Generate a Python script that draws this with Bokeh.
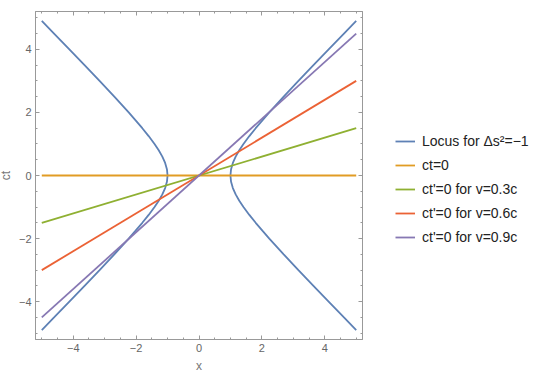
from bokeh.plotting import figure
from bokeh.layouts import row
from bokeh.models import Range1d, LinearAxis, SingleIntervalTicker, Legend, LegendItem, CustomLabelingPolicy
from bokeh.embed import file_html
from bokeh.resources import INLINE

# Hyperbola (locus for Δs² = −1)
ct_branch = [-4.899, -4.5, -4.0, -3.5, -3.0, -2.5, -2.0, -1.75, -1.5, -1.25, -1.0, -0.8, -0.6, -0.4, -0.2, 0.0,
             0.2, 0.4, 0.6, 0.8, 1.0, 1.25, 1.5, 1.75, 2.0, 2.5, 3.0, 3.5, 4.0, 4.5, 4.899]
x_right = [5.0, 4.61, 4.123, 3.64, 3.162, 2.693, 2.236, 2.016, 1.803, 1.601, 1.414, 1.281, 1.166, 1.077, 1.02, 1.0,
           1.02, 1.077, 1.166, 1.281, 1.414, 1.601, 1.803, 2.016, 2.236, 2.693, 3.162, 3.64, 4.123, 4.61, 5.0]
x_left = [-5.0, -4.61, -4.123, -3.64, -3.162, -2.693, -2.236, -2.016, -1.803, -1.601, -1.414, -1.281, -1.166, -1.077, -1.02, -1.0,
          -1.02, -1.077, -1.166, -1.281, -1.414, -1.601, -1.803, -2.016, -2.236, -2.693, -3.162, -3.64, -4.123, -4.61, -5.0]

# Straight lines through the origin
line_x = [-5.0, 5.0]
ct_zero = [0.0, 0.0]
ct_v03 = [-1.5, 1.5]
ct_v06 = [-3.0, 3.0]
ct_v09 = [-4.5, 4.5]

labels = ["Locus for \u0394s\u00b2=\u22121", "ct=0", "ct'=0 for v=0.3c", "ct'=0 for v=0.6c", "ct'=0 for v=0.9c"]
colors = ["#5E81B5", "#E19C24", "#8FB032", "#EB6235", "#8778B3"]

tick_values = [-4, -2, 0, 2, 4]
tick_labels = ["\u22124", "\u22122", "0", "2", "4"]

FONT = "Liberation Sans"
GRAY = "#999999"

p = figure(frame_width=327, frame_height=328, output_backend="svg", toolbar_location=None,
           x_range=Range1d(-5.2, 5.2), y_range=Range1d(-5.2, 5.2),
           min_border_left=31, min_border_top=11, min_border_right=10, min_border_bottom=0)
p.styles = {"margin-left": "-5px"}
p.xgrid.visible = False
p.ygrid.visible = False
p.outline_line_color = GRAY
p.background_fill_color = "white"
p.border_fill_color = "white"

lw = 1.8
r_hr = p.line(x_right, ct_branch, line_color=colors[0], line_width=lw)
r_hl = p.line(x_left, ct_branch, line_color=colors[0], line_width=lw)
r0 = p.line(line_x, ct_zero, line_color=colors[1], line_width=lw)
r1 = p.line(line_x, ct_v03, line_color=colors[2], line_width=lw)
r2 = p.line(line_x, ct_v06, line_color=colors[3], line_width=lw)
r3 = p.line(line_x, ct_v09, line_color=colors[4], line_width=lw)


def style(ax, show_labels=True):
    ax.ticker = SingleIntervalTicker(interval=2, num_minor_ticks=4)
    ax.axis_line_color = GRAY
    ax.major_tick_line_color = GRAY
    ax.minor_tick_line_color = GRAY
    ax.major_tick_in = 4
    ax.major_tick_out = 0
    ax.minor_tick_in = 2
    ax.minor_tick_out = 0
    ax.major_label_text_font = FONT
    ax.major_label_text_color = "#666666"
    ax.major_label_text_font_size = "11px"
    ax.axis_label_text_font = FONT
    ax.axis_label_text_color = "#777777"
    ax.axis_label_text_font_size = "12px"
    ax.axis_label_text_font_style = "normal"
    if show_labels:
        ax.major_label_overrides = {v: t for v, t in zip(tick_values, tick_labels)}
    else:
        ax.major_label_policy = CustomLabelingPolicy(code="return []")
        ax.major_label_text_font_size = "1px"
        ax.major_label_standoff = 0


style(p.xaxis[0])
style(p.yaxis[0])
p.xaxis.axis_label = "x"
p.yaxis.axis_label = "ct"
p.xaxis.major_label_standoff = 4
p.xaxis.axis_label_standoff = 4
p.yaxis.major_label_standoff = 4
p.yaxis.axis_label_standoff = 3

top = LinearAxis()
style(top, False)
p.add_layout(top, "above")
right = LinearAxis()
style(right, False)
p.add_layout(right, "right")

# Legend panel: a plain figure beside the plot, holding the legend
lg = figure(width=165, height=363, output_backend="svg", toolbar_location=None,
            x_range=Range1d(0, 1), y_range=Range1d(0, 1),
            min_border=0, min_border_left=0, min_border_right=0, min_border_top=0, min_border_bottom=0)
lg.axis.visible = False
lg.xgrid.visible = False
lg.ygrid.visible = False
lg.outline_line_color = None
lg.border_fill_color = "white"
nan = float("nan")
keys = [lg.line([nan], [nan], line_color=c, line_width=lw) for c in colors]

legend = Legend(items=[LegendItem(label=t, renderers=[k]) for t, k in zip(labels, keys)],
                location=(23, 80), padding=0, margin=0, spacing=4,
                glyph_width=20, glyph_height=20, label_height=20, label_standoff=7,
                label_text_font=FONT, label_text_font_size="14px", label_text_color="#222222",
                border_line_color=None, background_fill_alpha=0)
lg.add_layout(legend, "center")

layout = row(p, lg)
open("out.html", "w").write(file_html(layout, INLINE))
